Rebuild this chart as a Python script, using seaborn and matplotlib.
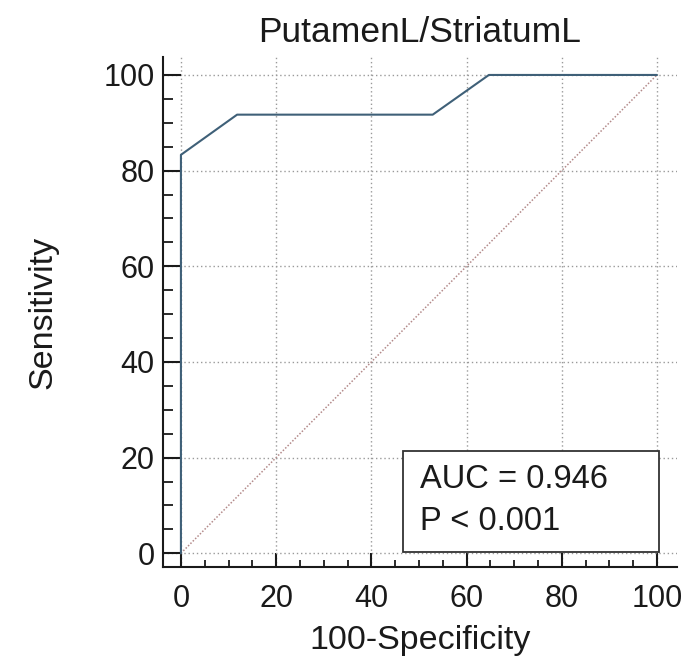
import matplotlib
matplotlib.use("Agg")
import matplotlib.pyplot as plt
import seaborn as sns
import pandas as pd
from matplotlib.patches import Rectangle
from matplotlib.ticker import MultipleLocator

# ---------------------------------------------------
# DATA
# ---------------------------------------------------

fpr = [0, 0, 11.8, 52.9, 64.7, 100]
tpr = [0, 83.3, 91.7, 91.7, 100, 100]
chance = [0, 100]
auc_text = "AUC = 0.946"
p_text = "P < 0.001"
title = "PutamenL/StriatumL"

roc = pd.DataFrame({"fpr": fpr, "tpr": tpr})
diag = pd.DataFrame({"x": chance, "y": chance})

# ---------------------------------------------------
# STYLE
# ---------------------------------------------------

sns.set_style("white")
plt.rcParams["font.family"] = ["Liberation Sans", "DejaVu Sans"]

fig = plt.figure(figsize=(6.9, 6.68), dpi=100)
ax = fig.add_axes([0.236, 0.151, 0.745, 0.764])

# ---------------------------------------------------
# PLOT
# ---------------------------------------------------

sns.lineplot(data=diag, x="x", y="y", ax=ax, color="#b38a8a",
             linestyle=(0, (1, 1.2)), linewidth=1.1, sort=False)
sns.lineplot(data=roc, x="fpr", y="tpr", ax=ax, color="#3f6078",
             linewidth=1.5, sort=False, estimator=None)

ax.set_xlim(-3.8, 104.2)
ax.set_ylim(-2.9, 103.8)
ax.xaxis.set_major_locator(MultipleLocator(20))
ax.yaxis.set_major_locator(MultipleLocator(20))
# minor ticks every 5, only inside 0..100
ax.set_xticks([v for v in range(0, 101, 5) if v % 20], minor=True)
ax.set_yticks([v for v in range(0, 101, 5) if v % 20], minor=True)

ax.grid(True, which="major", color="#9a9a9a", linestyle=(0, (1, 2)), linewidth=1.0)
ax.set_axisbelow(True)

for s in ["top", "right"]:
    ax.spines[s].set_visible(False)
for s in ["left", "bottom"]:
    ax.spines[s].set_color("#1a1a1a")
    ax.spines[s].set_linewidth(1.5)

txt = "#1a1a1a"
ax.tick_params(left=True, bottom=True, which="both")
ax.tick_params(axis="y", which="major", direction="in", length=13, width=1.5,
               color=txt, labelsize=22, pad=6, labelcolor=txt)
ax.tick_params(axis="y", which="minor", direction="in", length=7, width=1.3,
               color=txt)
ax.tick_params(axis="x", which="major", direction="in", length=10, width=1.5,
               color=txt, labelsize=22, pad=12, labelcolor=txt)
ax.tick_params(axis="x", which="minor", direction="in", length=5, width=1.3,
               color=txt)

ax.set_title(title, fontsize=25.5, color=txt, pad=11)
ax.set_xlabel("100-Specificity", fontsize=24.5, color=txt, labelpad=8)
ax.set_ylabel("Sensitivity", fontsize=24.5, color=txt, labelpad=32)

# annotation box
ax.add_patch(Rectangle((46.6, 0.2), 53.8, 21.1, fill=True, facecolor="white",
                       edgecolor="#333333", linewidth=1.3, zorder=3))
ax.text(50.3, 13.6, auc_text, fontsize=23.5, color=txt, va="baseline", zorder=4)
ax.text(50.3, 4.8, p_text, fontsize=23.5, color=txt, va="baseline", zorder=4)

fig.savefig("out.png", dpi=100)
plt.close(fig)
